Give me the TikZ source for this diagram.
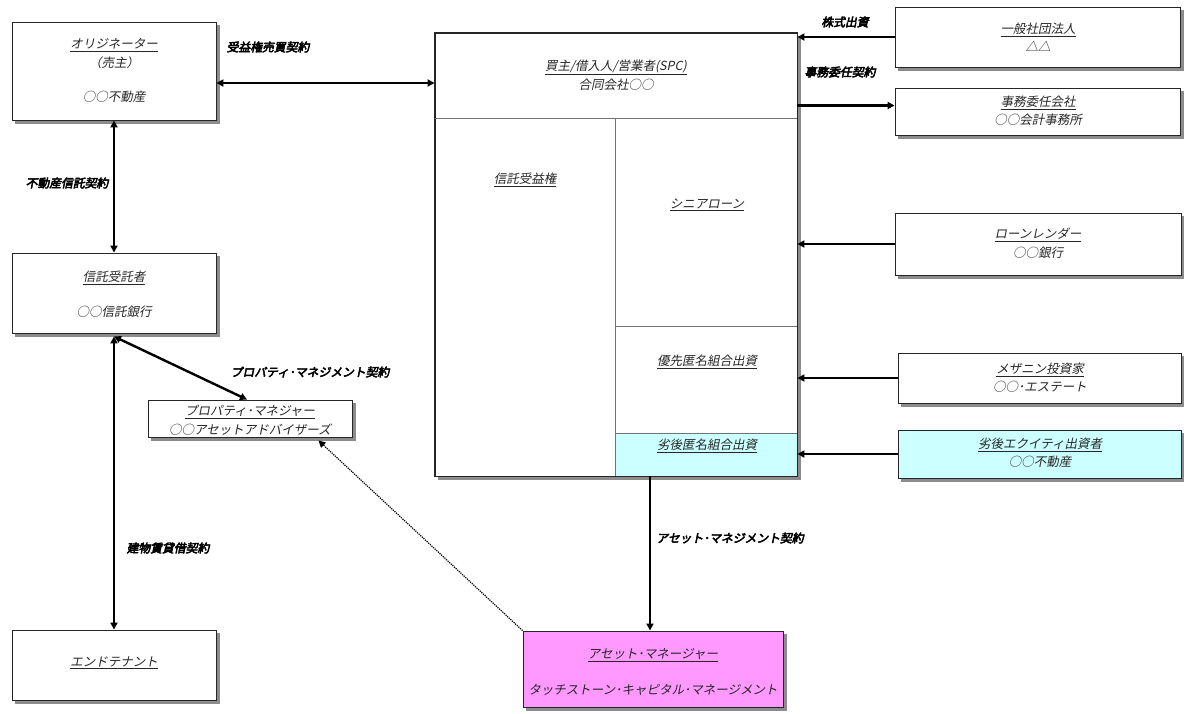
\documentclass[tikz,border=0pt]{standalone}
\usepackage{fontspec}
\usetikzlibrary{arrows.meta,backgrounds}
\newfontfamily\jp[FakeSlant=0.2]{Noto Sans CJK JP}
\newfontfamily\jpb[FakeSlant=0.2,FakeBold=4]{Noto Sans CJK JP}
\definecolor{cyanbox}{HTML}{CCFFFF}
\definecolor{magbox}{HTML}{FF99FF}
\tikzset{
  box/.style={draw=black!85,line width=0.9pt,fill=white,inner sep=0pt},
  shadowfill/.style={fill=black!45},
  txt/.style={font=\jp\fontsize{12.5}{13}\selectfont,text=black!85,inner sep=0pt},
  lbl/.style={font=\jpb\fontsize{11.8}{12}\selectfont,inner sep=0pt},
  arr/.style={line width=2.4pt,-{Triangle[length=7pt,width=7pt]}},
  dbl/.style={line width=2.4pt,{Triangle[length=7pt,width=7pt]}-{Triangle[length=7pt,width=7pt]}},
  dotarr/.style={line width=1.2pt,densely dotted,-{Triangle[length=7pt,width=7pt]}},
  divider/.style={draw=black!55,line width=0.8pt}
}
\begin{document}
\begin{tikzpicture}[x=1pt,y=-1pt]
\useasboundingbox (0,0) rectangle (1184,713);
% boxes
\node[box,minimum width=204pt,minimum height=98pt] (orig) at (114,71) {};
\node[box,minimum width=362pt,minimum height=443pt] (spc) at (616,254.5) {};
\node[box,minimum width=285pt,minimum height=60pt] (gen) at (1037.5,37) {};
\node[box,minimum width=285pt,minimum height=47pt] (jimu) at (1037.5,111.5) {};
\node[box,minimum width=286pt,minimum height=62pt] (loan) at (1038,244) {};
\node[box,minimum width=283pt,minimum height=50pt] (mez) at (1039.5,378) {};
\node[box,fill=cyanbox,minimum width=283pt,minimum height=48pt] (rekko) at (1039.5,454) {};
\node[box,minimum width=204pt,minimum height=80pt] (trustee) at (114,293) {};
\node[box,minimum width=204pt,minimum height=37pt] (pm) at (250,418.5) {};
\node[box,minimum width=204pt,minimum height=70pt] (tenant) at (114,665) {};
\node[box,fill=magbox,minimum width=260pt,minimum height=76pt] (am) at (653,669) {};
\begin{pgfonlayer}{background}
  \fill[white] (0,0) rectangle (1184,713);
  \foreach \b in {orig,spc,gen,jimu,loan,mez,rekko,trustee,pm,tenant,am}{
    \fill[shadowfill] ([shift={(3.5pt,-3.5pt)}]\b.south west) rectangle ([shift={(3.5pt,-3.5pt)}]\b.north east);
  }
\end{pgfonlayer}
% SPC internal
\fill[cyanbox] (615,433) rectangle (spc.south east);
\draw[divider] (spc.west |- 0,118) -- (spc.east |- 0,118);
\draw[divider] (615,118) -- (615,476);
\draw[divider] (615,326) -- (spc.east |- 0,326);
\draw[divider] (615,433) -- (spc.east |- 0,433);
\draw[draw=black!85,line width=0.9pt] (spc.north west) rectangle (spc.south east);
% texts
\node[txt] (t1) at (114,45) {\underline{オリジネーター}};
\node[txt] (t2) at (114,63) {（売主）};
\node[txt] (t3) at (114,97) {○○不動産};
\node[txt] (t4) at (616,67) {\underline{買主/借入人/営業者(SPC)}};
\node[txt] (t5) at (616,85) {合同会社○○};
\node[txt] (t6) at (525,180) {\underline{信託受益権}};
\node[txt] (t7) at (707,205) {\underline{シニアローン}};
\node[txt] (t8) at (707,362) {\underline{優先匿名組合出資}};
\node[txt] (t9) at (707,446) {\underline{劣後匿名組合出資}};
\node[txt] (t10) at (1038,30) {\underline{一般社団法人}};
\node[txt] (t11) at (1038,46) {△△};
\node[txt] (t12) at (1038,103) {\underline{事務委任会社}};
\node[txt] (t13) at (1038,120) {○○会計事務所};
\node[txt] (t14) at (1038,235) {\underline{ローンレンダー}};
\node[txt] (t15) at (1038,253) {○○銀行};
\node[txt] (t16) at (1040,370) {\underline{メザニン投資家}};
\node[txt] (t17) at (1040,387) {○○･エステート};
\node[txt] (t18) at (1040,445) {\underline{劣後エクイティ出資者}};
\node[txt] (t19) at (1040,462) {○○不動産};
\node[txt] (t20) at (114,278) {\underline{信託受託者}};
\node[txt] (t21) at (114,312) {○○信託銀行};
\node[txt] (t22) at (250,412) {\underline{プロパティ･マネジャー}};
\node[txt] (t23) at (250,430) {○○アセットアドバイザーズ};
\node[txt] (t24) at (114,663) {\underline{エンドテナント}};
\node[txt] (t25) at (653,655) {\underline{アセット･マネージャー}};
\node[txt] (t26) at (653,690) {タッチストーン･キャピタル･マネージメント};
% labels
\node[lbl] (l1) at (268,47) {受益権売買契約};
\node[lbl] (l2) at (845,22) {株式出資};
\node[lbl] (l3) at (840,72) {事務委任契約};
\node[lbl] (l4) at (67,183) {不動産信託契約};
\node[lbl] (l5) at (310,372) {プロパティ･マネジメント契約};
\node[lbl] (l6) at (168,548) {建物賃貸借契約};
\node[lbl] (l7) at (730,538) {アセット･マネジメント契約};
% connectors
\coordinate (o1) at ([yshift=-12pt]orig.east);
\draw[dbl] (o1) -- (o1 -| spc.west);
\draw[arr] (gen.west) -- (gen.west -| spc.east);
\coordinate (j1) at ([yshift=6pt]jimu.west);
\draw[arr] (j1 -| spc.east) -- (j1);
\draw[arr] (loan.west) -- (loan.west -| spc.east);
\draw[arr] (mez.west) -- (mez.west -| spc.east);
\draw[arr] (rekko.west) -- (rekko.west -| spc.east);
\draw[dbl] (orig.south) -- (trustee.north);
\coordinate (ts) at ([yshift=-3pt]trustee.south);
\draw[dbl] (ts) -- ([xshift=-3pt]pm.north);
\draw[dbl] (ts) -- (tenant.north);
\coordinate (a1) at ([xshift=34pt]spc.south);
\draw[arr] (a1) -- (a1 |- am.north);
\draw[dotarr] (am.north west) -- ([xshift=-34pt,yshift=-3pt]pm.south east);
\end{tikzpicture}
\end{document}
